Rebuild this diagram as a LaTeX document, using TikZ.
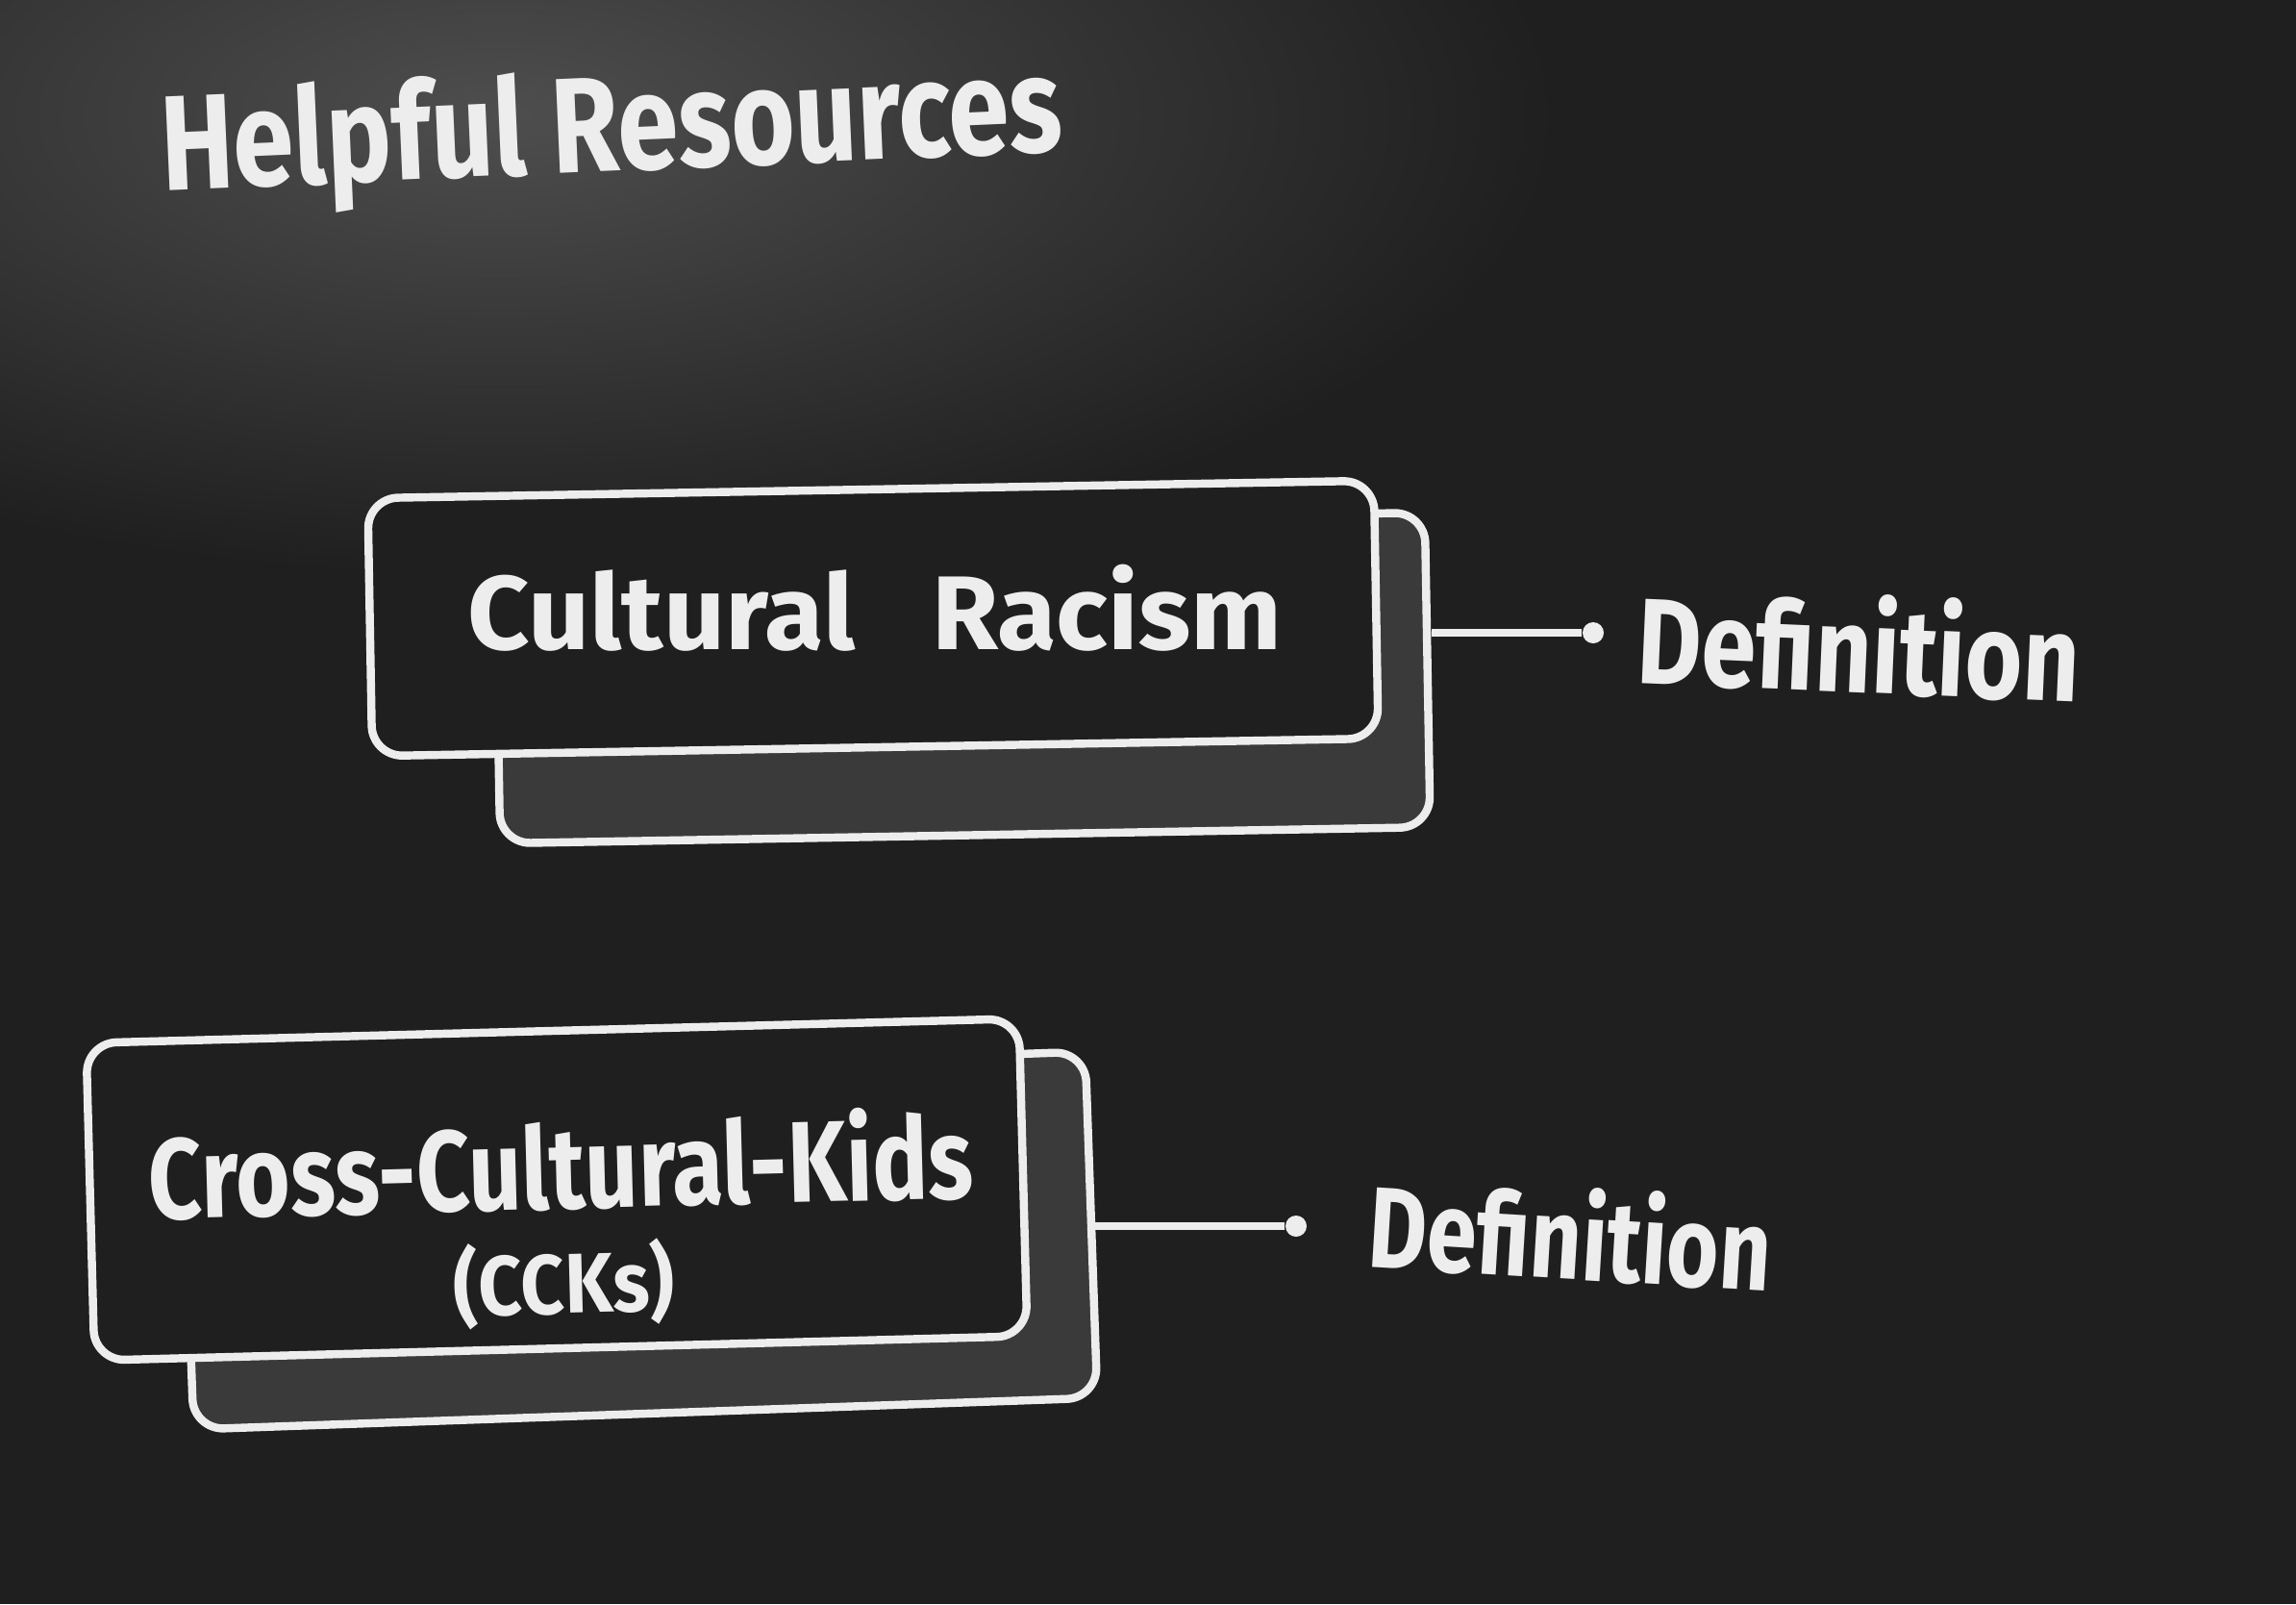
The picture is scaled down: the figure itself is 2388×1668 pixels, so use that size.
\documentclass[tikz,border=0pt]{standalone}
\usepackage{fontspec}
\setmainfont{Fira Sans}
\usepackage{tikz}
\usetikzlibrary{positioning,calc}
\definecolor{board}{HTML}{1F1F1F}
\definecolor{smudge}{HTML}{4E4E4E}
\definecolor{chalk}{HTML}{EDEDED}
\definecolor{shadowcard}{HTML}{3A3A3A}
\tikzset{
  card/.style={draw=chalk, line width=2.4pt, rounded corners=9pt, fill=board, inner sep=0pt},
  backcard/.style={card, fill=shadowcard},
  chalktext/.style={text=chalk, font=\bfseries, align=center, inner sep=0pt},
  pin/.style={circle, fill=chalk, inner sep=0pt, minimum size=0.22cm},
}

\begin{document}
\begin{tikzpicture}[x=0.01cm,y=-0.01cm]
        \useasboundingbox (0,0) rectangle (2388,1668);
        \clip (0,0) rectangle (2388,1668);
        \fill[board] (0,0) rectangle (2388,1668);
        \shade[inner color=smudge, outer color=board] (520,120) ellipse (1100 and 480);

        \node[chalktext, rotate=2.5] (title) at (636,140) {\fontsize{40}{44}\selectfont\scalebox{0.81}[1]{Helpful Resources}};

        % first card
        \node[backcard, rotate=1, minimum width=9.67cm, minimum height=3.27cm] (racismback) at (1001,705) {};
        \node[card, rotate=1, minimum width=10.46cm, minimum height=2.68cm] (racism) at (908,643) {};
        \node[chalktext] (racismlabel) at (910,632) {\fontsize{31}{36}\selectfont\scalebox{1.03}[1]{Cultural\ \ \ Racism}};
        \node[pin] (racismpin) at (1657,658) {};
        \draw[chalk, line width=2.2pt] (racismpin) -- (racismpin -| racismback.east);
        \node[chalktext, anchor=west, rotate=-2.5] (racismdef) at (1703,660) {\fontsize{36}{40}\selectfont\scalebox{0.81}[1]{Definition}};

        % second card
        \node[backcard, rotate=2, minimum width=9.40cm, minimum height=3.60cm] (cckback) at (665,1290) {};
        \node[card, rotate=1.5, minimum width=9.70cm, minimum height=3.30cm] (cck) at (579,1237) {};
        \node[chalktext, rotate=1.5, font=\bfseries\fontsize{34}{31}\selectfont] (ccklabel) at (585,1270) {\scalebox{0.81}[1]{Cross-Cultural-Kids}\\{\fontsize{25}{31}\selectfont\scalebox{0.9}[1]{(CCKs)}}};
        \node[pin] (cckpin) at (1348,1275) {};
        \draw[chalk, line width=2.2pt] (cckpin) -- (cckpin -| cckback.east);
        \node[chalktext, anchor=west, rotate=-3.5] (cckdef) at (1424,1270) {\fontsize{34}{38}\selectfont\scalebox{0.78}[1]{Definition}};
\end{tikzpicture}
\end{document}
